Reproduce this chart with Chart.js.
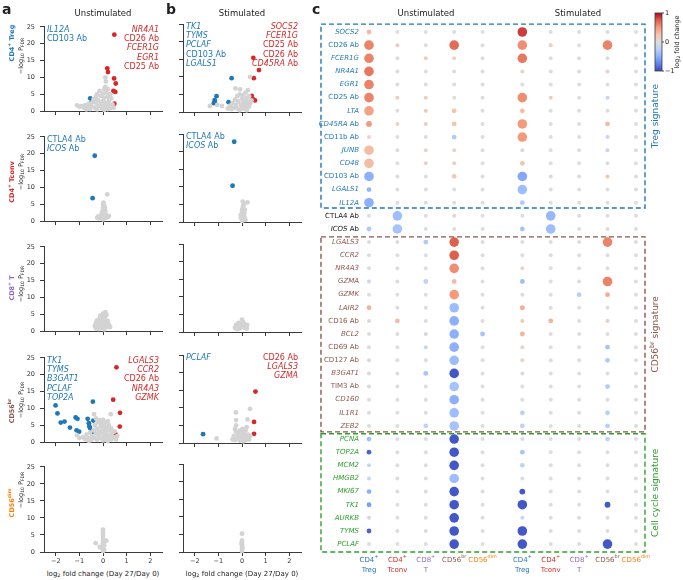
<!DOCTYPE html>
<html>
<head>
<meta charset="utf-8">
<script src="https://cdn.jsdelivr.net/npm/chart.js@4"></script>
<style>
  body { margin: 0; background: #fff; font-family: "DejaVu Sans", sans-serif; }
  #fig { position: relative; width: 683px; height: 580px; overflow: hidden; }
  #fig canvas { position: absolute; }
  .t { position: absolute; white-space: nowrap; color: #222; line-height: 1; }
  .t sub, .t sup { font-size: 70%; line-height: 0; }
  .t sub { vertical-align: -0.3em; }
  .t sup { vertical-align: 0.55em; }
</style>
</head>
<body>
<div id="fig"></div>
<script>
// ── Volcano data (log2 FC, -log10 P_FDR) ────────────
const xTicks = [-2, -1, 0, 1, 2];
const yTicks = [0, 5, 10, 15, 20, 25];

const grayTregU = [[-1.1,1.7],[-1.0,1.3],[-0.9,1.5],[-0.8,1.0],[-0.75,1.8],[-0.65,1.2],[-0.6,2.2],[-0.5,1.5],[-0.45,2.6],[-0.4,3.5],[-0.35,1.0],[-0.3,4.2],[-0.3,2.5],[-0.25,5.0],[-0.2,3.2],[-0.2,1.5],[-0.15,6.0],[-0.1,4.5],[-0.1,2.2],[-0.05,0.8],[0,5.2],[0,3.0],[0,1.5],[0.05,6.5],[0.05,4.0],[0.1,7.2],[0.1,2.5],[0.1,10.0],[0.12,8.8],[0.15,5.5],[0.15,1.2],[0.2,4.2],[0.2,6.5],[0.25,3.0],[0.25,1.8],[0.3,5.0],[0.3,0.8],[0.35,3.8],[0.4,2.0],[0.45,1.0],[-0.55,0.6],[-0.25,0.5],[0.05,0.4],[0.2,0.6],[-0.7,0.5]];
const upTregU = [[0.48,22.7],[0.18,12.7],[0.21,11.6],[0.47,9.7],[0.54,8.2],[0.44,6.0],[0.52,5.7],[0.48,2.2]];
const downTregU = [[-0.54,3.8],[-0.47,2.9]];

const grayTregS = [[-1.36,1.7],[-1.05,2.0],[-0.85,1.7],[-0.6,1.0],[-0.5,1.8],[-0.45,0.8],[-0.4,2.5],[-0.35,1.2],[-0.3,3.5],[-0.28,6.7],[-0.25,2.0],[-0.2,4.5],[-0.2,1.0],[-0.15,3.0],[-0.1,5.0],[-0.08,6.4],[-0.05,2.0],[0,3.8],[0,1.0],[0.05,4.8],[0.05,2.5],[0.1,3.2],[0.1,1.5],[0.15,5.5],[0.15,0.8],[0.2,4.0],[0.2,2.2],[0.25,3.0],[0.25,6.2],[0.3,1.5],[0.3,4.5],[0.34,10.0],[0.35,2.5],[0.4,3.3],[-0.1,0.5],[0.2,0.5]];
const upTregS = [[0.48,15.4],[0.72,11.9],[0.5,9.6],[0.41,4.6],[0.45,3.7],[0.55,3.3]];
const downTregS = [[-0.44,9.6],[-1.08,4.5],[-1.16,3.4],[-1.19,2.5],[-1.15,3.0],[-0.57,2.8]];

const grayTconvU = [[-0.25,1.0],[-0.2,1.4],[-0.15,0.8],[-0.1,1.6],[-0.05,1.2],[0,0.5],[0,2.0],[0,3.0],[0,4.0],[0,5.0],[0.02,5.5],[0.05,1.5],[0.05,2.5],[0.05,3.5],[0.05,4.5],[0.1,1.0],[0.1,3.0],[0.1,2.0],[0.15,1.6],[0.2,1.2],[0.25,1.5],[0.18,7.95],[-0.05,2.5],[0.08,4.0]];
const downTconvU = [[-0.35,19.4],[-0.44,6.8]];

const grayTconvS = [[0,0.3],[0,1.0],[0,1.7],[0,2.4],[0,3.1],[0.02,3.8],[0.05,4.4],[0.08,5.0],[0.03,5.8],[0.23,5.6],[0.05,0.8],[0.1,1.5],[0.1,2.5],[-0.05,1.2],[-0.05,2.0],[0.12,3.5],[0.15,0.6]];
const downTconvS = [[-0.33,22.8],[-0.4,10.3]];

const grayCd8U = [[-0.35,1.5],[-0.3,2.4],[-0.3,0.8],[-0.25,3.2],[-0.25,1.6],[-0.2,2.5],[-0.2,0.6],[-0.15,3.6],[-0.15,1.8],[-0.1,2.8],[-0.1,1.0],[-0.05,4.2],[-0.05,2.0],[0,3.2],[0,5.2],[0,1.2],[0.05,4.5],[0.05,2.5],[0.1,5.6],[0.1,3.5],[0.1,1.5],[0.15,4.8],[0.15,2.4],[0.2,3.0],[0.2,1.2],[0.25,1.9],[0.3,1.2],[0.05,0.5],[-0.12,4.6]];
const grayCd8S = [[-0.3,1.2],[-0.25,2.0],[-0.2,1.5],[-0.15,2.6],[-0.1,1.0],[-0.05,2.2],[0,3.5],[0,1.6],[0.05,2.8],[0.1,1.2],[0.1,2.2],[0.15,1.6],[0.2,1.0],[0.22,2.0],[-0.2,0.8]];

const grayBrU = [[-1.1,2.0],[-1.0,1.2],[-0.85,1.5],[-0.75,0.8],[-0.7,2.2],[-0.6,1.2],[-0.55,2.8],[-0.5,0.6],[-0.45,1.8],[-0.38,8.3],[-0.4,3.5],[-0.35,5.0],[-0.35,1.2],[-0.3,2.6],[-0.3,7.0],[-0.25,4.0],[-0.25,0.7],[-0.2,5.8],[-0.2,2.0],[-0.15,3.2],[-0.15,6.5],[-0.1,1.2],[-0.1,4.6],[-0.05,2.6],[-0.05,5.5],[0,0.5],[0,3.8],[0,6.6],[0.05,1.8],[0.05,4.8],[0.1,3.0],[0.1,5.9],[0.1,0.8],[0.15,2.2],[0.15,4.2],[0.2,6.2],[0.2,1.2],[0.25,3.4],[0.25,5.0],[0.3,2.0],[0.33,8.3],[0.35,4.0],[0.35,0.8],[0.4,2.8],[0.45,1.5],[0.5,3.2],[0.55,0.8],[0.6,1.8],[-0.6,0.4],[0.2,0.3]];
const upBrU = [[0.57,22.2],[0.43,12.6],[0.72,8.7],[0.71,4.6],[0.52,2.5]];
const downBrU = [[-2.01,10.9],[-1.93,8.5],[-1.79,5.8],[-1.63,6.1],[-1.4,4.3],[-1.16,7.3],[-1.08,6.9],[-1.12,3.5],[-1.01,3.1],[-0.65,6.9],[-0.6,5.6],[-0.58,4.7],[-0.43,12.0],[-0.41,6.4],[-0.48,3.1],[-0.41,3.1],[-0.55,4.2]];

const grayBrS = [[-1.08,1.3],[-0.4,1.0],[-0.35,2.0],[-0.3,0.8],[-0.26,8.7],[-0.25,6.5],[-0.25,5.0],[-0.25,3.2],[-0.2,1.5],[-0.15,2.5],[-0.1,0.7],[-0.1,3.5],[-0.05,1.8],[0,1.0],[0,2.6],[0.05,0.5],[0.05,3.0],[0.1,1.5],[0.1,2.2],[0.15,0.8],[0.15,3.5],[0.2,1.6],[0.2,4.5],[0.23,6.7],[0.25,2.4],[0.3,1.0],[0.34,9.7],[0.35,2.0],[-0.3,4.0],[0.02,4.0]];
const upBrS = [[0.57,14.6],[0.51,6.0],[0.51,2.6]];
const downBrS = [[-1.65,2.5]];

const grayDimU = [[-0.31,2.6],[-0.14,1.5],[0.14,3.3],[0,0.3],[0,1.0],[0,1.8],[0,2.6],[0,3.4],[0,4.2],[0,5.0],[0,5.8],[0,6.6],[-0.05,1.2],[0.05,2.0],[0.05,0.6]];
const grayDimS = [[0,0.3],[0,0.9],[0,1.5],[0,2.1],[0,2.7],[0,3.3],[0,5.2],[0.02,1.2],[-0.02,2.4]];

// ── Dot plot data (panel c) ─────────────────────────
const rowLabels = ['_SOCS2_','CD26 Ab','_FCER1G_','_NR4A1_','_EGR1_','CD25 Ab','_LTA_','_CD45RA_ Ab','CD11b Ab','_JUNB_',
  '_CD48_','CD103 Ab','_LGALS1_','_IL12A_','CTLA4 Ab','_ICOS_ Ab','_LGALS3_','_CCR2_','_NR4A3_','_GZMA_',
  '_GZMK_','_LAIR2_','CD16 Ab','_BCL2_','CD69 Ab','CD127 Ab','_B3GAT1_','TIM3 Ab','_CD160_','_IL1R1_',
  '_ZEB2_','_PCNA_','_TOP2A_','_MCM2_','_HMGB2_','_MKI67_','_TK1_','_AURKB_','_TYMS_','_PCLAF_'];
const colX = [0, 1, 2, 3, 4, 5.4, 6.4, 7.4, 8.4, 9.4];

// log2 fold change per row
const fcUTreg = [0.3,0.6,0.6,0.65,0.6,0.6,0.45,0.5,0.1,0.3, 0.3,-0.5,-0.45,-0.5,0,-0.3,0,0,0,-0.1, 0,0.35,0.05,0,0,0.05,0.05,0.05,0,0, 0,-0.4,-0.9,-0.15,-0.1,-0.5,-0.6,-0.1,-0.9,0];
const fcUTconv = [0,0.15,0,0,0,0.15,0,0.1,0,0, 0,0,0,0,-0.4,-0.35,0,0,0,0, 0,0,0.3,0,0,0,0,0,0,0, 0,0,0,0,0,0,0,0,0,0];
const fcUCd8 = [0,0,0.15,0,0,0.15,0.2,0.15,0,0.1, 0.1,0,0,0,0,0,-0.3,0,0,-0.2, 0,0,0,-0.1,-0.15,0,-0.35,0,0,0, -0.2,0,0,0,0,0,0,0,0,0];
const fcUBr = [0,0.7,0.1,0,0,0,0.25,0.25,-0.3,0.1, 0.15,0.2,0,0,0.1,0,0.75,0.75,0.55,0.3, 0.5,-0.4,-0.5,-0.5,-0.5,-0.4,-0.95,-0.35,-0.5,-0.4, -0.35,-0.95,-0.95,-0.95,-0.4,-0.95,-0.95,-0.95,-0.95,-0.95];
const fcUDim = [0,0,0,0,0,0,0,0,0,0, 0,0,0,0,0,0,0,0,0,0, 0,0,0,-0.35,0,0,0,0,0,0, 0,0,0,0,0,0,0,0,0,0];
const fcSTreg = [0.85,0.55,0.65,0.1,0,0.55,0.3,0.5,0.5,-0.05, 0.25,-0.55,-0.4,-0.3,0,-0.35,0,0,0.1,-0.4, 0,0.4,0.2,0.35,0.1,0.1,0.05,0,0,-0.25, -0.2,0,-0.35,-0.2,0,-0.95,-0.95,-0.15,-0.95,-0.95];
const fcSTconv = [0,0.15,0,0,0,0.15,0,0,0,0, 0,-0.05,0,0,-0.45,-0.4,0,0,0,0, 0,0,0.35,0,0,0,0,0,0,0, 0,0,0,0,0,0,0,0,0,0];
const fcSCd8 = [0,0,0,0,0,0,0,0,0,0, 0,0,0,0,0,0,0,0,0,0, -0.25,0,0,0,0,0,0,0,0,0, 0,0,0,0,0,0,0,0,0,0];
const fcSBr = [0,0.6,0,0.1,0,-0.15,0,0.3,-0.15,-0.15, 0,0.25,0,0,0,0,0.6,0,0,0.6, 0.4,0,0.15,0,-0.35,-0.3,0,-0.3,0,-0.25, -0.25,-0.2,0,0,0,0,-0.95,0,0,-0.95];
const fcSDim = [0,0,0,0,0,0,0,0,0,0, 0,0,0,0,0,0,0,0,0,0, 0,0,0,0,0,0,0,0,0,0, 0,0,0,0,0,0,0,0,0,0];

// significance level per row (0 = n.s. ... 3 = strongest)
const sigUTreg = [1,3,3,3,3,3,3,2,0,3, 3,3,1,3,0,1,0,0,0,0, 0,1,0,0,0,0,0,0,0,0, 0,1,1,0,0,1,1,0,1,0];
const sigUTconv = [0,0,0,0,0,0,0,0,0,0, 0,0,0,0,3,3,0,0,0,0, 0,0,1,0,0,0,0,0,0,0, 0,0,0,0,0,0,0,0,0,0];
const sigUCd8 = [0,0,0,0,0,0,0,0,0,0, 0,0,0,0,0,0,1,0,0,1, 0,0,0,0,0,0,1,0,0,0, 1,0,0,0,0,0,0,0,0,0];
const sigUBr = [0,3,0,0,0,0,1,1,1,0, 0,1,0,0,0,0,3,3,3,1, 3,3,3,3,3,3,3,3,3,3, 3,3,3,3,3,3,3,3,3,3];
const sigUDim = [0,0,0,0,0,0,0,0,0,0, 0,0,0,0,0,0,0,0,0,0, 0,0,0,1,0,0,0,0,0,0, 0,0,0,0,0,0,0,0,0,0];
const sigSTreg = [3,3,3,0,0,3,1,3,3,0, 1,3,3,1,0,1,0,0,0,1, 0,1,0,1,0,0,0,0,0,1, 1,0,1,1,0,2,3,0,3,3];
const sigSTconv = [0,0,0,0,0,0,0,0,0,0, 0,0,0,0,3,3,0,0,0,0, 0,0,1,0,0,0,0,0,0,0, 0,0,0,0,0,0,0,0,0,0];
const sigSCd8 = [0,0,0,0,0,0,0,0,0,0, 0,0,0,0,0,0,0,0,0,0, 1,0,0,0,0,0,0,0,0,0, 0,0,0,0,0,0,0,0,0,0];
const sigSBr = [0,3,0,0,0,0,0,1,0,0, 0,0,0,0,0,0,3,0,0,3, 1,0,0,0,1,1,0,1,0,1, 1,1,0,0,0,0,2,0,0,3];
const sigSDim = [0,0,0,0,0,0,0,0,0,0, 0,0,0,0,0,0,0,0,0,0, 0,0,0,0,0,0,0,0,0,0, 0,0,0,0,0,0,0,0,0,0];

// ── Style ───────────────────────────────────────────
const FONT = '"DejaVu Sans", sans-serif';
const AXIS = '#3a3a3a';
const RED = '#d62728', BLUE = '#1f77b4', GRAY = '#d3d3d3';
const typeColors = ['#1f77b4', '#d62728', '#9467bd', '#8c564b', '#ff7f0e'];
const typeHtml = ['CD4<sup>+</sup> Treg', 'CD4<sup>+</sup> Tconv', 'CD8<sup>+</sup> T', 'CD56<sup>br</sup>', 'CD56<sup>dim</sup>'];
const sigRadius = [2.0, 2.4, 2.9, 4.8];

const fig = document.getElementById('fig');

function addText(html, x, y, style) {
  const d = document.createElement('div');
  d.className = 't';
  d.innerHTML = html;
  d.style.cssText += style;
  d.style.left = x + 'px';
  d.style.top = y + 'px';
  fig.appendChild(d);
  return d;
}
const CENTER = 'transform:translate(-50%,-50%);';
const ROT = 'transform:translate(-50%,-50%) rotate(-90deg);';

// coolwarm colormap
const cwStops = [[59,76,192],[98,130,234],[141,176,254],[184,208,249],[221,221,221],[245,196,173],[244,154,123],[222,96,77],[180,4,38]];
function coolwarm(v) {
  const t = Math.max(0, Math.min(1, (v + 1) / 2)) * 8;
  const i = Math.min(7, Math.floor(t)), f = t - i;
  const a = cwStops[i], b = cwStops[i + 1];
  return `rgb(${a.map((c, k) => Math.round(c + (b[k] - c) * f)).join(',')})`;
}

// text with _italic_, ^super^ and ~sub~ parts
function drawRich(ctx, str, x, y, align, size, color, weight) {
  const w0 = weight || 'normal';
  const segs = str.split(/(_[^_]+_|\^[^^]+\^|~[^~]+~)/).filter(s => s).map(p => {
    if (p[0] === '_') return { t: p.slice(1, -1), font: `italic ${w0} ${size}px ${FONT}`, dy: 0 };
    if (p[0] === '^') return { t: p.slice(1, -1), font: `${w0} ${size * 0.7}px ${FONT}`, dy: -size * 0.4 };
    if (p[0] === '~') return { t: p.slice(1, -1), font: `${w0} ${size * 0.7}px ${FONT}`, dy: size * 0.25 };
    return { t: p, font: `${w0} ${size}px ${FONT}`, dy: 0 };
  });
  let w = 0;
  segs.forEach(s => { ctx.font = s.font; s.w = ctx.measureText(s.t).width; w += s.w; });
  let cx = align === 'right' ? x - w : align === 'center' ? x - w / 2 : x;
  ctx.fillStyle = color;
  ctx.textAlign = 'left';
  segs.forEach(s => { ctx.font = s.font; ctx.fillText(s.t, cx, y + s.dy); cx += s.w; });
}

// ── Volcano panels (a, b) ───────────────────────────
const PLOT_W = 118, PLOT_H = 88;
const colLeft = [44, 183];
const rowTop = [24, 134, 244, 355, 464];

const volcanoPanels = [
  { c: 0, r: 0, gray: grayTregU, up: upTregU, down: downTregU, left: ['_IL12A_', 'CD103 Ab'], right: ['_NR4A1_', 'CD26 Ab', '_FCER1G_', '_EGR1_', 'CD25 Ab'] },
  { c: 1, r: 0, gray: grayTregS, up: upTregS, down: downTregS, left: ['_TK1_', '_TYMS_', '_PCLAF_', 'CD103 Ab', '_LGALS1_'], right: ['_SOCS2_', '_FCER1G_', 'CD25 Ab', 'CD26 Ab', '_CD45RA_ Ab'] },
  { c: 0, r: 1, gray: grayTconvU, up: [], down: downTconvU, left: ['CTLA4 Ab', '_ICOS_ Ab'], right: [] },
  { c: 1, r: 1, gray: grayTconvS, up: [], down: downTconvS, left: ['CTLA4 Ab', '_ICOS_ Ab'], right: [] },
  { c: 0, r: 2, gray: grayCd8U, up: [], down: [], left: [], right: [] },
  { c: 1, r: 2, gray: grayCd8S, up: [], down: [], left: [], right: [] },
  { c: 0, r: 3, gray: grayBrU, up: upBrU, down: downBrU, left: ['_TK1_', '_TYMS_', '_B3GAT1_', '_PCLAF_', '_TOP2A_'], right: ['_LGALS3_', '_CCR2_', 'CD26 Ab', '_NR4A3_', '_GZMK_'] },
  { c: 1, r: 3, gray: grayBrS, up: upBrS, down: downBrS, left: ['_PCLAF_'], right: ['CD26 Ab', '_LGALS3_', '_GZMA_'] },
  { c: 0, r: 4, gray: grayDimU, up: [], down: [], left: [], right: [] },
  { c: 1, r: 4, gray: grayDimS, up: [], down: [], left: [], right: [] },
];

const geneLabelPlugin = {
  id: 'geneLabels',
  afterDraw(chart, args, opts) {
    const { ctx, chartArea: a } = chart;
    ctx.save();
    ctx.textBaseline = 'top';
    (opts.left || []).forEach((s, i) => drawRich(ctx, s, a.left + 3, a.top - 1 + i * 9.2, 'left', 8, BLUE));
    (opts.right || []).forEach((s, i) => drawRich(ctx, s, a.right - 3, a.top - 1 + i * 9.2, 'right', 8, RED));
    ctx.restore();
  }
};

const toXY = arr => arr.map(([x, y]) => ({ x, y }));

function makeVolcano(p) {
  const padT = 6, padR = 6, yW = 30;
  const showX = p.r === 4, showY = p.c === 0;
  const xH = showX ? 15 : 8;
  const cv = document.createElement('canvas');
  cv.width = yW + PLOT_W + padR;
  cv.height = padT + PLOT_H + xH;
  cv.style.left = (colLeft[p.c] - yW) + 'px';
  cv.style.top = (rowTop[p.r] - padT) + 'px';
  fig.appendChild(cv);

  const pt = color => ({ backgroundColor: color, borderWidth: 0, pointRadius: 2.4, clip: false });
  new Chart(cv, {
    type: 'scatter',
    data: {
      datasets: [
        { data: toXY(p.gray), ...pt(GRAY) },
        { data: toXY(p.down), ...pt(BLUE) },
        { data: toXY(p.up), ...pt(RED) },
      ]
    },
    options: {
      responsive: false, animation: false, devicePixelRatio: 1, events: [],
      layout: { padding: { top: padT, right: padR, left: 0, bottom: 0 } },
      plugins: { legend: { display: false }, tooltip: { enabled: false }, geneLabels: { left: p.left, right: p.right } },
      scales: {
        x: {
          type: 'linear', min: -2.5, max: 2.5,
          afterBuildTicks: ax => { ax.ticks = xTicks.map(v => ({ value: v })); },
          afterFit: ax => { ax.height = xH; },
          grid: { drawOnChartArea: false, tickLength: 4, color: AXIS },
          border: { color: AXIS, width: 1 },
          ticks: { display: showX, color: '#333', padding: 1, maxRotation: 0, font: { size: 6.5, family: FONT },
                   callback: v => String(v).replace('-', '\u2212') },
        },
        y: {
          type: 'linear', min: 0, max: 25,
          afterBuildTicks: ax => { ax.ticks = yTicks.map(v => ({ value: v })); },
          afterFit: ax => { ax.width = yW; },
          grid: { drawOnChartArea: false, tickLength: 4, color: AXIS },
          border: { color: AXIS, width: 1 },
          ticks: { display: showY, color: '#333', padding: 5, font: { size: 6.5, family: FONT } },
        }
      }
    },
    plugins: [geneLabelPlugin]
  });
}
volcanoPanels.forEach(makeVolcano);

// y-axis titles for panel a rows
const line1Y = [43, 182, 288, 411, 503];
const line2Y = [56, 172, 284, 400, 490];
typeHtml.forEach((h, k) => {
  addText(h, 12, line1Y[k], ROT + `font-size:6.5px;font-weight:bold;color:${typeColors[k]};`);
  addText('\u2212log<sub>10</sub> P<sub>FDR</sub>', 21, line2Y[k], ROT + 'font-size:6.5px;');
});

// ── Dot plot (panel c) ──────────────────────────────
const fcCols = [fcUTreg, fcUTconv, fcUCd8, fcUBr, fcUDim, fcSTreg, fcSTconv, fcSCd8, fcSBr, fcSDim];
const sigCols = [sigUTreg, sigUTconv, sigUCd8, sigUBr, sigUDim, sigSTreg, sigSTconv, sigSCd8, sigSBr, sigSDim];
const boxes = [
  { from: -0.6, to: 13.4, color: '#1f77b4', label: 'Treg signature' },
  { from: 15.6, to: 30.45, color: '#8c564b', label: 'CD56^br^ signature' },
  { from: 30.6, to: 39.6, color: '#2ca02c', label: 'Cell cycle signature' },
];
const colLine1 = ['CD4^+^', 'CD4^+^', 'CD8^+^', 'CD56^br^', 'CD56^dim^'];
const colLine2 = ['Treg', 'Tconv', 'T', '', ''];

function rowColor(i) {
  if (i <= 13) return '#1f77b4';
  if (i <= 15) return '#111';
  if (i <= 30) return '#8c564b';
  return '#2ca02c';
}

const dotPlugin = {
  id: 'dotDecor',
  afterDatasetsDraw(chart) {
    const { ctx, chartArea: a, scales: { x, y } } = chart;
    ctx.save();
    // row labels
    ctx.textBaseline = 'middle';
    rowLabels.forEach((s, i) => drawRich(ctx, s, 59, y.getPixelForValue(i), 'right', 7, rowColor(i)));
    // dashed signature boxes
    ctx.setLineDash([5, 3]);
    ctx.lineWidth = 1.4;
    boxes.forEach(b => {
      const t = y.getPixelForValue(b.from), btm = y.getPixelForValue(b.to);
      ctx.strokeStyle = b.color;
      ctx.strokeRect(a.left, t, a.right - a.left, btm - t);
    });
    ctx.setLineDash([]);
    // side labels
    boxes.forEach(b => {
      const cy = (y.getPixelForValue(b.from) + y.getPixelForValue(b.to)) / 2;
      ctx.save();
      ctx.translate(a.right + 11, cy);
      ctx.rotate(-Math.PI / 2);
      ctx.textBaseline = 'middle';
      drawRich(ctx, b.label, 0, 0, 'center', 9, b.color);
      ctx.restore();
    });
    // column labels
    colX.forEach((v, c) => {
      const px = x.getPixelForValue(v), k = c % 5;
      drawRich(ctx, colLine1[k], px, 560, 'center', 7, typeColors[k]);
      if (colLine2[k]) drawRich(ctx, colLine2[k], px, 570, 'center', 7, typeColors[k]);
    });
    // colour bar
    const cbX = 355, cbT = 13, cbB = 71, cbW = 7;
    const g = ctx.createLinearGradient(0, cbB, 0, cbT);
    cwStops.forEach((s, i) => g.addColorStop(i / 8, `rgb(${s.join(',')})`));
    ctx.fillStyle = g;
    ctx.fillRect(cbX, cbT, cbW, cbB - cbT);
    ctx.strokeStyle = AXIS; ctx.lineWidth = 0.8;
    ctx.strokeRect(cbX, cbT, cbW, cbB - cbT);
    ctx.fillStyle = '#222';
    ctx.font = `6.5px ${FONT}`;
    [['1', cbT], ['0', (cbT + cbB) / 2], ['\u22121', cbB]].forEach(([t, ty]) => {
      ctx.fillRect(cbX + cbW, ty - 0.4, 2, 0.8);
      ctx.fillText(t, cbX + cbW + 3, ty);
    });
    ctx.save();
    ctx.translate(377, (cbT + cbB) / 2);
    ctx.rotate(-Math.PI / 2);
    drawRich(ctx, 'log~2~ fold change', 0, 0, 'center', 6.5, '#222');
    ctx.restore();
    ctx.restore();
  }
};

(function makeDotPlot() {
  const cv = document.createElement('canvas');
  cv.width = 383; cv.height = 580;
  cv.style.left = '300px'; cv.style.top = '0px';
  fig.appendChild(cv);
  new Chart(cv, {
    type: 'bubble',
    data: {
      datasets: colX.map((cx, c) => ({
        data: rowLabels.map((_, i) => ({ x: cx, y: i, r: sigRadius[sigCols[c][i]] })),
        backgroundColor: fcCols[c].map(coolwarm),
        borderWidth: 0,
        clip: false,
      }))
    },
    options: {
      responsive: false, animation: false, devicePixelRatio: 1, events: [],
      layout: { padding: { left: 21, right: 38, top: 24, bottom: 28 } },
      plugins: { legend: { display: false }, tooltip: { enabled: false } },
      scales: {
        x: { type: 'linear', min: -1.69, max: 9.72, display: false },
        y: { type: 'linear', min: -0.61, max: 39.6, reverse: true, display: false },
      }
    },
    plugins: [dotPlugin]
  });
})();

// ── Titles & panel letters ──────────────────────────
addText('a', 2, 2, 'font-size:14px;font-weight:bold;');
addText('b', 166, 2, 'font-size:14px;font-weight:bold;');
addText('c', 312, 2, 'font-size:14px;font-weight:bold;');
addText('Unstimulated', 103, 13, CENTER + 'font-size:8.5px;');
addText('Stimulated', 242, 13, CENTER + 'font-size:8.5px;');
addText('Unstimulated', 426, 13, CENTER + 'font-size:8.5px;');
addText('Stimulated', 578, 13, CENTER + 'font-size:8.5px;');
addText('log<sub>2</sub> fold change (Day 27/Day 0)', 103, 574, CENTER + 'font-size:7px;');
addText('log<sub>2</sub> fold change (Day 27/Day 0)', 242, 574, CENTER + 'font-size:7px;');
</script>
</body>
</html>
